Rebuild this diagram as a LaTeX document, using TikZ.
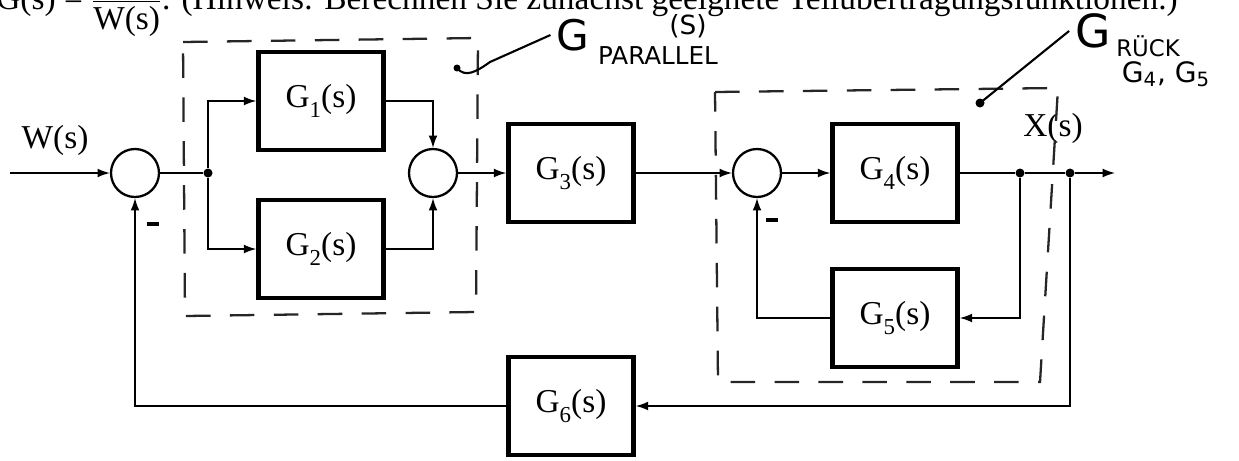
\documentclass[tikz,border=0pt]{standalone}
\usepackage{fontspec}
\setmainfont{Liberation Serif}
\newfontfamily\handfont{DejaVu Sans}
\usetikzlibrary{arrows.meta,positioning,calc}

\newcommand{\Gsub}[1]{G\raisebox{-0.6ex}{\fontsize{13}{13}\selectfont #1}(s)}
\newcommand{\minusbar}{\rule[0.5ex]{7pt}{2.2pt}}

\begin{document}
\begin{tikzpicture}[x=0.02cm, y=-0.02cm,
  every node/.style={font=\fontsize{19}{22}\selectfont},
  block/.style={draw, line width=2.6pt, minimum width=2.5cm, minimum height=1.96cm, inner sep=0pt},
  sumnode/.style={draw, circle, line width=1.3pt, minimum size=0.96cm, inner sep=0pt},
  junc/.style={circle, fill, inner sep=0pt, minimum size=0.18cm},
  wire/.style={line width=0.8pt},
  sig/.style={wire, -{Latex[length=7pt,width=5pt]}},
  grp/.style={line width=1.3pt, dash pattern=on 14pt off 11pt, black!85},
  hand/.style={font=\handfont\fontsize{12}{12}\selectfont}]
  \useasboundingbox (0,0) rectangle (1239,460);

  % Task text (cut at the top)
  \node[anchor=base west, inner sep=0pt] (task) at (-4,9)
    {G(s) = $\displaystyle\frac{\mbox{X(s)}}{\mbox{W(s)}}$. (Hinweis: Berechnen Sie zunächst geeignete Teilübertragungsfunktionen.)};

  % Forward path
  \coordinate (in) at (10,173);
  \node[sumnode] (s1) at (135,173) {};
  \node[junc] (d1) at (208,173) {};
  \node[block] (G1) at (321,101) {\Gsub{1}};
  \node[block] (G2) at (321,249) {\Gsub{2}};
  \node[sumnode] (s2) at (433,173) {};
  \node[block] (G3) at (571,173) {\Gsub{3}};
  \node[sumnode] (s3) at (757,173) {};
  \node[block] (G4) at (895,173) {\Gsub{4}};
  \node[junc] (d2) at (1020,173) {};
  \node[junc] (d3) at (1070,173) {};
  \coordinate (out) at (1115,173);

  % Feedback blocks
  \node[block] (G5) at (895,318) {\Gsub{5}};
  \node[block] (G6) at (571,406) {\Gsub{6}};

  % Signals
  \node (W) at (55,140) {W(s)};
  \node (X) at (1053,128) {X(s)};
  \node (m1) at (153,228) {\minusbar};
  \node (m3) at (772,224) {\minusbar};

  % Connections
  \draw[sig] (in) -- (s1);
  \draw[wire] (s1) -- (d1);
  \draw[sig] (d1) |- (G1.west);
  \draw[sig] (d1) |- (G2.west);
  \draw[sig] (G1.east) -| (s2.north);
  \draw[sig] (G2.east) -| (s2.south);
  \draw[sig] (s2) -- (G3);
  \draw[sig] (G3) -- (s3);
  \draw[sig] (s3) -- (G4);
  \draw[wire] (G4) -- (d2) -- (d3);
  \draw[sig] (d3) -- (out);
  \draw[sig] (d2) |- (G5.east);
  \draw[sig] (G5.west) -| (s3.south);
  \draw[sig] (d3) |- (G6.east);
  \draw[sig] (G6.west) -| (s1.south);

  % Hand-drawn groups
  \draw[grp] (183,42) -- (478,38) -- (476,312) -- (185,316) -- cycle;
  \draw[grp] (715,92) -- (1058,88) -- (1040,382) -- (718,382) -- cycle;

  % Hand-written notes
  \node[hand, font=\handfont\fontsize{24}{24}\selectfont] (gpar) at (573,35) {G};
  \node[hand, font=\handfont\fontsize{14}{14}\selectfont] (gparsub) at (658,56) {PARALLEL};
  \node[hand, font=\handfont\fontsize{15}{15}\selectfont] (gpars) at (688,26) {(S)};
  \coordinate (parptr) at (457,68);
  \fill (parptr) circle (3.5);
  \draw[line width=1.2pt] (parptr) .. controls (465,78) and (476,72) .. (490,62) -- (gpar.west);

  \node[hand, font=\handfont\fontsize{26}{26}\selectfont] (grueck) at (1093,31) {G};
  \node[hand, font=\handfont\fontsize{13}{13}\selectfont] (grsub) at (1148,46) {RÜCK};
  \node[hand, font=\handfont\fontsize{16}{16}\selectfont] (grg) at (1166,74) {G\textsubscript{4}, G\textsubscript{5}};
  \coordinate (rueckptr) at (980,103);
  \fill (rueckptr) circle (4.5);
  \draw[line width=1.2pt] (rueckptr) -- (grueck.west);
\end{tikzpicture}
\end{document}
